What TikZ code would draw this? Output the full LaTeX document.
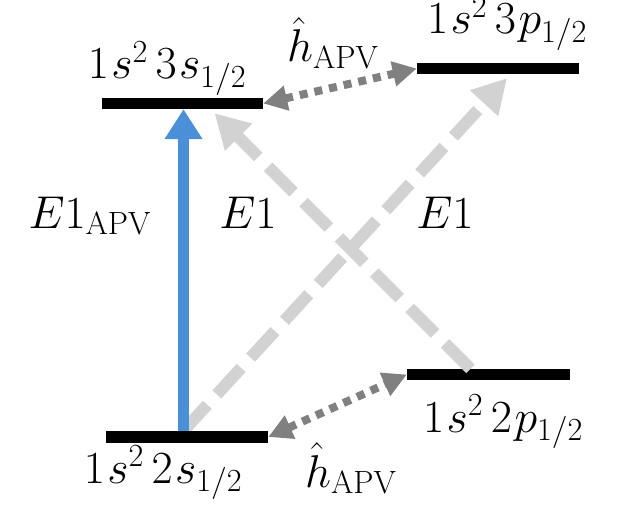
\RequirePackage{fix-cm}
\documentclass[tikz,border=0pt]{standalone}
\usepackage{tikz}
\usetikzlibrary{arrows.meta}

\definecolor{apvblue}{RGB}{74,144,217}
\definecolor{lightgr}{RGB}{210,210,210}
\definecolor{darkgr}{RGB}{128,128,128}

\begin{document}
\begin{tikzpicture}[x=1pt,y=-1pt,font=\fontsize{46}{54}\selectfont]
    \tikzset{
      level/.style={fill=black, inner sep=0pt, minimum height=11pt},
      lbl/.style={anchor=base, inner sep=0pt},
      eone/.style={lightgr, line width=12pt, dash pattern=on 36pt off 14pt,
        -{Triangle[length=34pt,width=36pt]}},
      mix/.style={darkgr, line width=8pt, dash pattern=on 8pt off 7pt,
        {Triangle[length=24pt,width=24pt]}-{Triangle[length=24pt,width=24pt]}}
    }
    \useasboundingbox (0,0) rectangle (618,513);

    % Levels
    \node[level, minimum width=161pt] (s3) at (182.5,103.5) {};
    \node[level, minimum width=162pt] (p3) at (498,68.5)    {};
    \node[level, minimum width=163pt] (p2) at (488.5,374.5) {};
    \node[level, minimum width=162pt] (s2) at (187,437)     {};

    % Level labels
    \node[lbl] (s3lbl) at (167,79)  {$1\mkern1mu s^{2}\,3\mkern1mu s_{1/2}$};
    \node[lbl] (p3lbl) at (507,34)  {$1\mkern1mu s^{2}\,3\mkern1mu p_{1/2}$};
    \node[lbl] (p2lbl) at (503,432) {$1\mkern1mu s^{2}\,2\mkern1mu p_{1/2}$};
    \node[lbl] (s2lbl) at (163,483) {$1\mkern1mu s^{2}\,2\mkern1mu s_{1/2}$};

    % Transition labels
    \node[lbl] (apvtop) at (333,62)  {$\hat{h}_{\mathrm{APV}}$};
    \node[lbl] (apvbot) at (351,487) {$\hat{h}_{\mathrm{APV}}$};
    \node[lbl] (eapv)   at (90,228)  {$E1_{\mathrm{APV}}$};
    \node[lbl] (eleft)  at (248,228) {$E1$};
    \node[lbl] (eright) at (445,228) {$E1$};

    % Arrows
    \draw[eone] ([xshift=-18pt]p2.north) -- ([xshift=32pt,yshift=-4pt]s3.south);
    \draw[eone] ([xshift=-4pt]s2.north)  -- ([xshift=9pt,yshift=-4pt]p3.south);
    \draw[apvblue, line width=11pt, -{Triangle[length=30pt,width=36pt]}]
      ([xshift=-3.5pt]s2.north) -- ([xshift=1pt]s3.south);
    \draw[mix] (s3.east) -- (p3.west);
    \draw[mix] (s2.east) -- (p2.west);

    % Levels on top
    \fill (s3.south west) rectangle (s3.north east);
    \fill (s2.south west) rectangle (s2.north east);
\end{tikzpicture}
\end{document}
